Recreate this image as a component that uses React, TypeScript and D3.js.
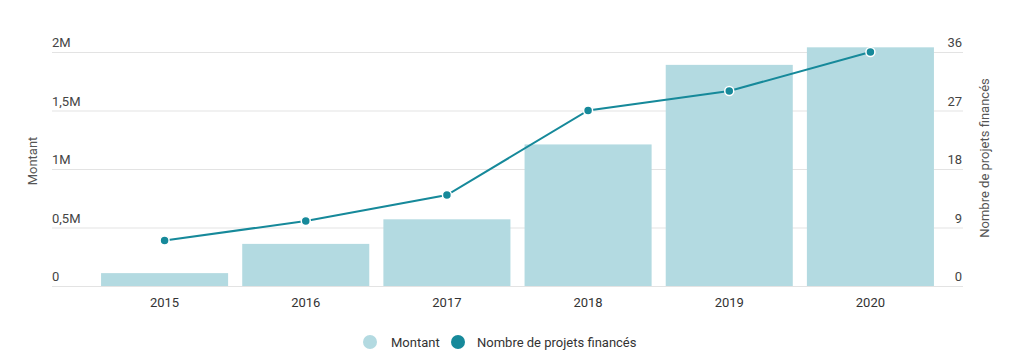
import { useEffect, useRef } from 'react';
import * as d3 from 'd3';

const years = ['2015', '2016', '2017', '2018', '2019', '2020'];
const montant = [110000, 360000, 570000, 1210000, 1890000, 2040000];
const projets = [7, 10, 14, 27, 30, 36];
const leftTicks = [0, 500000, 1000000, 1500000, 2000000];
const leftTickLabels = ['0', '0,5M', '1M', '1,5M', '2M'];
const rightTicks = [0, 9, 18, 27, 36];

const W = 1010;
const H = 363;
const barColor = '#b3dae1';
const lineColor = '#16899a';
const textColor = '#444';

export default function App() {
  const svgRef = useRef<SVGSVGElement>(null);

  useEffect(() => {
    if (!svgRef.current) return;
    const svg = d3.select(svgRef.current);
    svg.selectAll('*').remove();

    const font = 'Roboto, sans-serif';
    const top = 52;
    const bottom = 286;
    const gridLeft = 52;
    const gridRight = 963;

    const x = d3.scaleBand<string>()
      .domain(years)
      .range([94, 941])
      .paddingInner(0.1)
      .paddingOuter(0.05);

    const yL = d3.scaleLinear().domain([0, 2000000]).range([bottom, top]);
    const yR = d3.scaleLinear().domain([0, 36]).range([bottom, top]);

    // grid
    svg.append('g')
      .selectAll('line')
      .data(leftTicks)
      .join('line')
      .attr('x1', gridLeft)
      .attr('x2', gridRight)
      .attr('y1', d => yL(d) + 0.5)
      .attr('y2', d => yL(d) + 0.5)
      .attr('stroke', '#e3e3e3')
      .attr('stroke-width', 1);

    // left labels
    svg.append('g')
      .selectAll('text')
      .data(leftTicks)
      .join('text')
      .attr('x', gridLeft)
      .attr('y', d => yL(d) - 5)
      .attr('font-family', font)
      .attr('font-size', 13)
      .attr('fill', textColor)
      .text((d, i) => leftTickLabels[i]);

    // right labels
    svg.append('g')
      .selectAll('text')
      .data(rightTicks)
      .join('text')
      .attr('x', gridRight - 1)
      .attr('y', d => yR(d) - 5)
      .attr('text-anchor', 'end')
      .attr('font-family', font)
      .attr('font-size', 13)
      .attr('fill', textColor)
      .text(d => String(d));

    // axis titles
    svg.append('text')
      .attr('transform', 'translate(37, 161) rotate(-90)')
      .attr('text-anchor', 'middle')
      .attr('font-family', font)
      .attr('font-size', 13)
      .attr('fill', '#555')
      .text('Montant');

    svg.append('text')
      .attr('transform', 'translate(989, 158) rotate(-90)')
      .attr('text-anchor', 'middle')
      .attr('font-family', font)
      .attr('font-size', 13)
      .attr('fill', '#555')
      .text('Nombre de projets financés');

    // bars
    svg.append('g')
      .selectAll('rect')
      .data(montant)
      .join('rect')
      .attr('x', (d, i) => x(years[i])!)
      .attr('width', x.bandwidth())
      .attr('y', d => yL(d))
      .attr('height', d => bottom - yL(d))
      .attr('fill', barColor);

    // x labels
    svg.append('g')
      .selectAll('text')
      .data(years)
      .join('text')
      .attr('x', d => x(d)! + x.bandwidth() / 2)
      .attr('y', 307)
      .attr('text-anchor', 'middle')
      .attr('font-family', font)
      .attr('font-size', 13)
      .attr('fill', '#333')
      .text(d => d);

    // line
    const line = d3.line<number>()
      .x((d, i) => x(years[i])! + x.bandwidth() / 2)
      .y(d => yR(d));

    svg.append('path')
      .datum(projets)
      .attr('d', line)
      .attr('fill', 'none')
      .attr('stroke', lineColor)
      .attr('stroke-width', 2);

    svg.append('g')
      .selectAll('circle')
      .data(projets)
      .join('circle')
      .attr('cx', (d, i) => x(years[i])! + x.bandwidth() / 2)
      .attr('cy', d => yR(d))
      .attr('r', 4.5)
      .attr('fill', lineColor)
      .attr('stroke', '#fff')
      .attr('stroke-width', 1.5);

    // legend
    const lg = svg.append('g').attr('transform', 'translate(0, 342)');
    const items = [
      { label: 'Montant', color: barColor, cx: 370, tx: 391 },
      { label: 'Nombre de projets financés', color: lineColor, cx: 458, tx: 477 },
    ];
    items.forEach(it => {
      lg.append('circle')
        .attr('cx', it.cx)
        .attr('cy', 0)
        .attr('r', 7)
        .attr('fill', it.color);
      lg.append('text')
        .attr('x', it.tx)
        .attr('y', 4.5)
        .attr('font-family', font)
        .attr('font-size', 13)
        .attr('fill', '#333')
        .text(it.label);
    });
  }, []);

  return (
    <svg
      ref={svgRef}
      width={W}
      height={H}
      style={{ position: 'absolute', left: 0, top: 0, background: '#fff' }}
    />
  );
}
